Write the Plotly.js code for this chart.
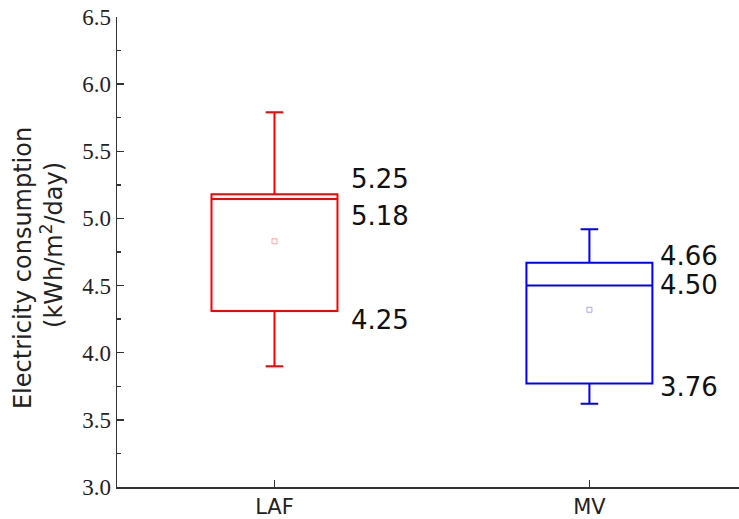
<!DOCTYPE html>
<html>
<head>
<meta charset="utf-8">
<script src="https://cdn.plot.ly/plotly-3.0.1.min.js"></script>
<style>html,body{margin:0;padding:0;background:#fff;}#chart{width:739px;height:519px;}</style>
</head>
<body>
<div id="chart"></div>
<script>
// ---- data ----
const categories = ['LAF', 'MV'];
const q1Values = [4.31, 3.77];
const medianValues = [5.145, 4.50];
const q3Values = [5.18, 4.67];
const lowerWhisker = [3.90, 3.62];
const upperWhisker = [5.79, 4.92];
const meanValues = [4.83, 4.32];
const labelTexts = [['5.25', '5.18', '4.25'], ['4.66', '4.50', '3.76']];
const labelAnchors = [[5.29, 5.02, 4.245], [4.72, 4.505, 3.745]];
const yTicks = [3.0, 3.5, 4.0, 4.5, 5.0, 5.5, 6.0, 6.5];
const yMinorTicks = [3.25, 3.75, 4.25, 4.75, 5.25, 5.75, 6.25];

const colors = ['#ff0000', '#0000ff'];
const meanColors = ['rgba(255,0,0,0.35)', 'rgba(0,0,255,0.35)'];

const traces = [];
categories.forEach((c, i) => {
  traces.push({
    type: 'box',
    x: [c],
    q1: [q1Values[i]],
    median: [medianValues[i]],
    q3: [q3Values[i]],
    lowerfence: [lowerWhisker[i]],
    upperfence: [upperWhisker[i]],
    width: 0.4,
    whiskerwidth: 0.14,
    line: {color: colors[i], width: 2},
    fillcolor: 'rgba(0,0,0,0)',
    boxpoints: false,
    hoverinfo: 'skip',
    showlegend: false
  });
  traces.push({
    type: 'scatter',
    mode: 'markers',
    x: [c],
    y: [meanValues[i]],
    marker: {symbol: 'square-open', size: 5, color: meanColors[i], line: {width: 1, color: meanColors[i]}},
    hoverinfo: 'skip',
    showlegend: false
  });
});
// invisible trace that activates the minor-tick axis
traces.push({type: 'scatter', mode: 'markers', x: [categories[0]], y: [yTicks[0]], yaxis: 'y2',
  marker: {opacity: 0}, hoverinfo: 'skip', showlegend: false});

const annotations = [];
categories.forEach((c, i) => {
  labelTexts[i].forEach((t, j) => {
    annotations.push({
      xref: 'x', yref: 'y',
      x: i + 0.2, y: labelAnchors[i][j],
      xanchor: 'left', yanchor: 'middle',
      xshift: i === 0 ? 12 : 6,
      text: t, showarrow: false,
      font: {family: 'DejaVu Sans', size: 26, color: '#111'}
    });
  });
});
annotations.push({
  xref: 'paper', yref: 'paper', x: -0.151, y: 0.466,
  xanchor: 'center', yanchor: 'middle', textangle: -90,
  text: 'Electricity consumption', showarrow: false,
  font: {family: 'DejaVu Sans', size: 24, color: '#222'}
});
annotations.push({
  xref: 'paper', yref: 'paper', x: -0.1045, y: 0.515,
  xanchor: 'center', yanchor: 'middle', textangle: -90,
  text: '(kWh/m<sup>2</sup>/day)', showarrow: false,
  font: {family: 'DejaVu Sans', size: 24, color: '#222'}
});

const layout = {
  width: 739, height: 519,
  margin: {l: 117, r: 0, t: 17, b: 32, pad: 0},
  paper_bgcolor: '#fff', plot_bgcolor: '#fff',
  boxmode: 'overlay',
  showlegend: false,
  xaxis: {
    type: 'category',
    categoryorder: 'array', categoryarray: categories,
    range: [-0.5, 1.475],
    showline: true, linecolor: '#333', linewidth: 1.5,
    ticks: 'inside', ticklen: 7, tickcolor: '#333', tickwidth: 1.5,
    showgrid: false, zeroline: false,
    tickfont: {family: 'DejaVu Sans', size: 21, color: '#222'}
  },
  yaxis: {
    range: [3.0, 6.5],
    tickvals: yTicks,
    ticktext: yTicks.map(v => v.toFixed(1)),
    showline: true, linecolor: '#333', linewidth: 1.5,
    ticks: 'inside', ticklen: 7, tickcolor: '#333', tickwidth: 1.5,
    showgrid: false, zeroline: false,
    tickfont: {family: 'Liberation Serif', size: 23, color: '#222'}
  },
  yaxis2: {
    overlaying: 'y', side: 'left', anchor: 'x',
    range: [3.0, 6.5],
    tickvals: yMinorTicks,
    showticklabels: false,
    showline: false,
    ticks: 'inside', ticklen: 4, tickcolor: '#333', tickwidth: 1.5,
    showgrid: false, zeroline: false
  },
  annotations: annotations
};

Plotly.newPlot('chart', traces, layout, {staticPlot: true, displayModeBar: false});
</script>
</body>
</html>
